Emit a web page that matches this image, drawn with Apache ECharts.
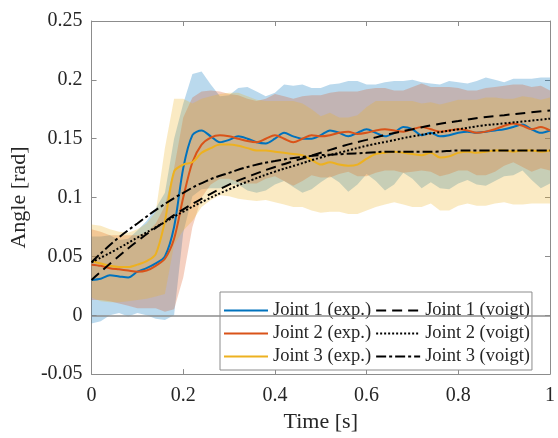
<!DOCTYPE html>
<html>
<head>
<meta charset="utf-8">
<script src="https://cdn.jsdelivr.net/npm/echarts@6/dist/echarts.min.js"></script>
<style>
  html, body { margin: 0; padding: 0; background: #fff; }
  #main { width: 558px; height: 438px; }
</style>
</head>
<body>
<div id="main"></div>
<script>
// time stamps of the measured curves [s]
var t = [0, 0.02, 0.04, 0.06, 0.08, 0.1, 0.12, 0.14, 0.16, 0.18,
         0.2, 0.22, 0.24, 0.26, 0.28, 0.3, 0.32, 0.34, 0.36, 0.38,
         0.4, 0.42, 0.44, 0.46, 0.48, 0.5, 0.52, 0.54, 0.56, 0.58,
         0.6, 0.62, 0.64, 0.66, 0.68, 0.7, 0.72, 0.74, 0.76, 0.78,
         0.8, 0.82, 0.84, 0.86, 0.88, 0.9, 0.92, 0.94, 0.96, 0.98, 1];

// Joint 1 (exp.) mean and std [rad]
var mean1 = [0.030, 0.031, 0.034, 0.033, 0.032, 0.037, 0.040, 0.044, 0.050, 0.075,
             0.125, 0.153, 0.157, 0.152, 0.147, 0.149, 0.152, 0.150, 0.147, 0.146,
             0.150, 0.155, 0.152, 0.150, 0.150, 0.153, 0.157, 0.155, 0.152, 0.155,
             0.158, 0.155, 0.152, 0.155, 0.160, 0.158, 0.153, 0.155, 0.152, 0.153,
             0.155, 0.156, 0.155, 0.156, 0.157, 0.158, 0.160, 0.162, 0.158, 0.155, 0.157];
var std1 = [0.037, 0.036, 0.034, 0.031, 0.033, 0.035, 0.040, 0.047, 0.054, 0.075,
            0.055, 0.052, 0.050, 0.044, 0.039, 0.038, 0.041, 0.044, 0.043, 0.040,
            0.039, 0.041, 0.043, 0.046, 0.043, 0.040, 0.039, 0.042, 0.047, 0.044,
            0.038, 0.041, 0.046, 0.044, 0.039, 0.042, 0.045, 0.042, 0.044, 0.046,
            0.043, 0.041, 0.044, 0.046, 0.043, 0.040, 0.041, 0.039, 0.043, 0.047, 0.045];

// Joint 2 (exp.)
var mean2 = [0.043, 0.042, 0.040, 0.039, 0.038, 0.037, 0.038, 0.042, 0.048, 0.065,
             0.100, 0.130, 0.145, 0.151, 0.153, 0.152, 0.150, 0.148, 0.147, 0.150,
             0.153, 0.150, 0.147, 0.150, 0.153, 0.152, 0.153, 0.155, 0.156, 0.154,
             0.155, 0.157, 0.158, 0.157, 0.156, 0.158, 0.160, 0.158, 0.156, 0.157,
             0.158, 0.157, 0.155, 0.156, 0.158, 0.161, 0.163, 0.161, 0.158, 0.160, 0.157];
var std2 = [0.030, 0.029, 0.028, 0.029, 0.030, 0.031, 0.032, 0.036, 0.045, 0.060,
            0.068, 0.055, 0.045, 0.040, 0.037, 0.036, 0.037, 0.036, 0.035, 0.034,
            0.035, 0.036, 0.037, 0.036, 0.034, 0.035, 0.036, 0.035, 0.034, 0.036,
            0.037, 0.036, 0.035, 0.034, 0.035, 0.036, 0.037, 0.036, 0.038, 0.037,
            0.035, 0.034, 0.036, 0.037, 0.036, 0.034, 0.033, 0.035, 0.036, 0.035, 0.034];

// Joint 3 (exp.)
var mean3 = [0.046, 0.044, 0.042, 0.041, 0.041, 0.043, 0.046, 0.052, 0.080, 0.122,
             0.128, 0.130, 0.138, 0.142, 0.145, 0.145, 0.144, 0.142, 0.140, 0.140,
             0.139, 0.138, 0.137, 0.136, 0.132, 0.128, 0.130, 0.128, 0.127, 0.128,
             0.133, 0.137, 0.138, 0.139, 0.138, 0.137, 0.136, 0.138, 0.134, 0.135,
             0.138, 0.139, 0.138, 0.139, 0.140, 0.140, 0.139, 0.140, 0.140, 0.139, 0.140];
var std3 = [0.031, 0.032, 0.031, 0.030, 0.029, 0.030, 0.032, 0.036, 0.062, 0.062,
            0.056, 0.050, 0.046, 0.044, 0.043, 0.044, 0.045, 0.044, 0.043, 0.042,
            0.043, 0.044, 0.045, 0.044, 0.043, 0.041, 0.042, 0.040, 0.041, 0.042,
            0.044, 0.045, 0.044, 0.043, 0.044, 0.045, 0.044, 0.043, 0.045, 0.046,
            0.045, 0.044, 0.045, 0.046, 0.045, 0.044, 0.045, 0.046, 0.045, 0.044, 0.045];

// Voigt model curves
var tv = [0, 0.05, 0.1, 0.15, 0.2, 0.25, 0.3, 0.35, 0.4, 0.45, 0.5,
          0.55, 0.6, 0.65, 0.7, 0.75, 0.8, 0.85, 0.9, 0.95, 1];
var voigt1 = [0.030, 0.047, 0.063, 0.077, 0.090, 0.101, 0.111, 0.119, 0.126, 0.132, 0.138,
              0.144, 0.149, 0.154, 0.158, 0.162, 0.165, 0.168, 0.170, 0.172, 0.174];
var voigt2 = [0.045, 0.055, 0.066, 0.077, 0.088, 0.098, 0.107, 0.115, 0.122, 0.128, 0.134,
              0.139, 0.144, 0.148, 0.152, 0.155, 0.158, 0.161, 0.163, 0.165, 0.167];
var voigt3 = [0.045, 0.063, 0.078, 0.092, 0.104, 0.114, 0.121, 0.127, 0.131, 0.134, 0.136,
              0.137, 0.138, 0.139, 0.139, 0.139, 0.140, 0.140, 0.140, 0.140, 0.140];

var names = ['Joint 1 (exp.)', 'Joint 1 (voigt)', 'Joint 2 (exp.)',
             'Joint 2 (voigt)', 'Joint 3 (exp.)', 'Joint 3 (voigt)'];

var colors = ['#0072BD', '#D95319', '#EDB120'];
var font = 'Liberation Serif';
var axisColor = '#8c8c8c';
var textColor = '#262626';

function pairs(xs, ys) {
  return xs.map(function (x, i) { return [x, ys[i]]; });
}

// shaded mean +/- std band, as two stacked lines.
// value goes in dim 0 so that the stack runs on the y value, not on time
function band(key, mean, sd, color) {
  var lo = mean.map(function (m, i) { return [m - sd[i], t[i]]; });
  var width = sd.map(function (s, i) { return [2 * s, t[i]]; });
  return [
    { name: key + 'lo', type: 'line', stack: key, stackStrategy: 'all',
      encode: { x: 1, y: 0 }, data: lo, symbol: 'none', silent: true,
      lineStyle: { opacity: 0 } },
    { name: key + 'hi', type: 'line', stack: key, stackStrategy: 'all',
      encode: { x: 1, y: 0 }, data: width, symbol: 'none', silent: true,
      lineStyle: { opacity: 0 },
      areaStyle: { color: color, opacity: 0.27 } }
  ];
}

function expLine(name, mean, color) {
  return { name: name, type: 'line', data: pairs(t, mean), symbol: 'none',
           smooth: 0.3, color: color, lineStyle: { color: color, width: 2 }, z: 3 };
}

function voigtLine(name, vals, dash) {
  return { name: name, type: 'line', data: pairs(tv, vals), symbol: 'none',
           smooth: true, color: '#000',
           lineStyle: { color: '#000', width: 2, type: dash }, z: 4 };
}

var series = [].concat(
  band('b1', mean1, std1, colors[0]),
  band('b2', mean2, std2, colors[1]),
  band('b3', mean3, std3, colors[2])
);
series[0].markLine = {
  silent: true, symbol: ['none', 'none'], label: { show: false },
  lineStyle: { color: axisColor, width: 1.5, type: 'solid' },
  data: [{ yAxis: 0 }]
};
series.push(expLine(names[0], mean1, colors[0]));
series.push(expLine(names[2], mean2, colors[1]));
series.push(expLine(names[4], mean3, colors[2]));
series.push(voigtLine(names[1], voigt1, [10, 6]));
series.push(voigtLine(names[3], voigt2, [2, 2]));
series.push(voigtLine(names[5], voigt3, [10, 3, 3, 3]));

function axisBase(extra) {
  var a = {
    type: 'value',
    axisLine: { show: true, onZero: false, lineStyle: { color: axisColor, width: 1 } },
    axisTick: { show: true, inside: true, length: 5, lineStyle: { color: axisColor } },
    axisLabel: { show: false },
    splitLine: { show: false }
  };
  for (var k in extra) a[k] = extra[k];
  return a;
}

var myChart = echarts.init(document.getElementById('main'));

option = {
  animation: false,
  backgroundColor: '#fff',
  grid: { left: 91, right: 4, top: 21, bottom: 61 },
  xAxis: [
    axisBase({
      min: 0, max: 1, interval: 0.2, position: 'bottom',
      name: 'Time [s]', nameLocation: 'middle', nameGap: 30,
      nameTextStyle: { fontFamily: font, fontSize: 22, color: textColor },
      axisLabel: { show: true, fontFamily: font, fontSize: 20, color: textColor, margin: 12 }
    }),
    axisBase({ min: 0, max: 1, interval: 0.2, position: 'top' })
  ],
  yAxis: [
    axisBase({
      min: -0.05, max: 0.25, interval: 0.05, position: 'left',
      name: 'Angle [rad]', nameLocation: 'middle', nameGap: 58,
      nameTextStyle: { fontFamily: font, fontSize: 22, color: textColor },
      axisLabel: { show: true, fontFamily: font, fontSize: 20, color: textColor, margin: 9 }
    }),
    axisBase({ min: -0.05, max: 0.25, interval: 0.05, position: 'right' })
  ],
  legend: {
    left: 220, top: 292, width: 322,
    orient: 'horizontal', itemGap: 4, itemWidth: 44, itemHeight: 14,
    padding: [9, 2, 4, 3],
    borderColor: axisColor, borderWidth: 1, backgroundColor: '#fff',
    itemStyle: { opacity: 0 },
    textStyle: { fontFamily: font, fontSize: 18.5, color: textColor, padding: [0, 5, 0, 0] },
    data: names
  },
  series: series
};

myChart.setOption(option);
</script>
</body>
</html>
